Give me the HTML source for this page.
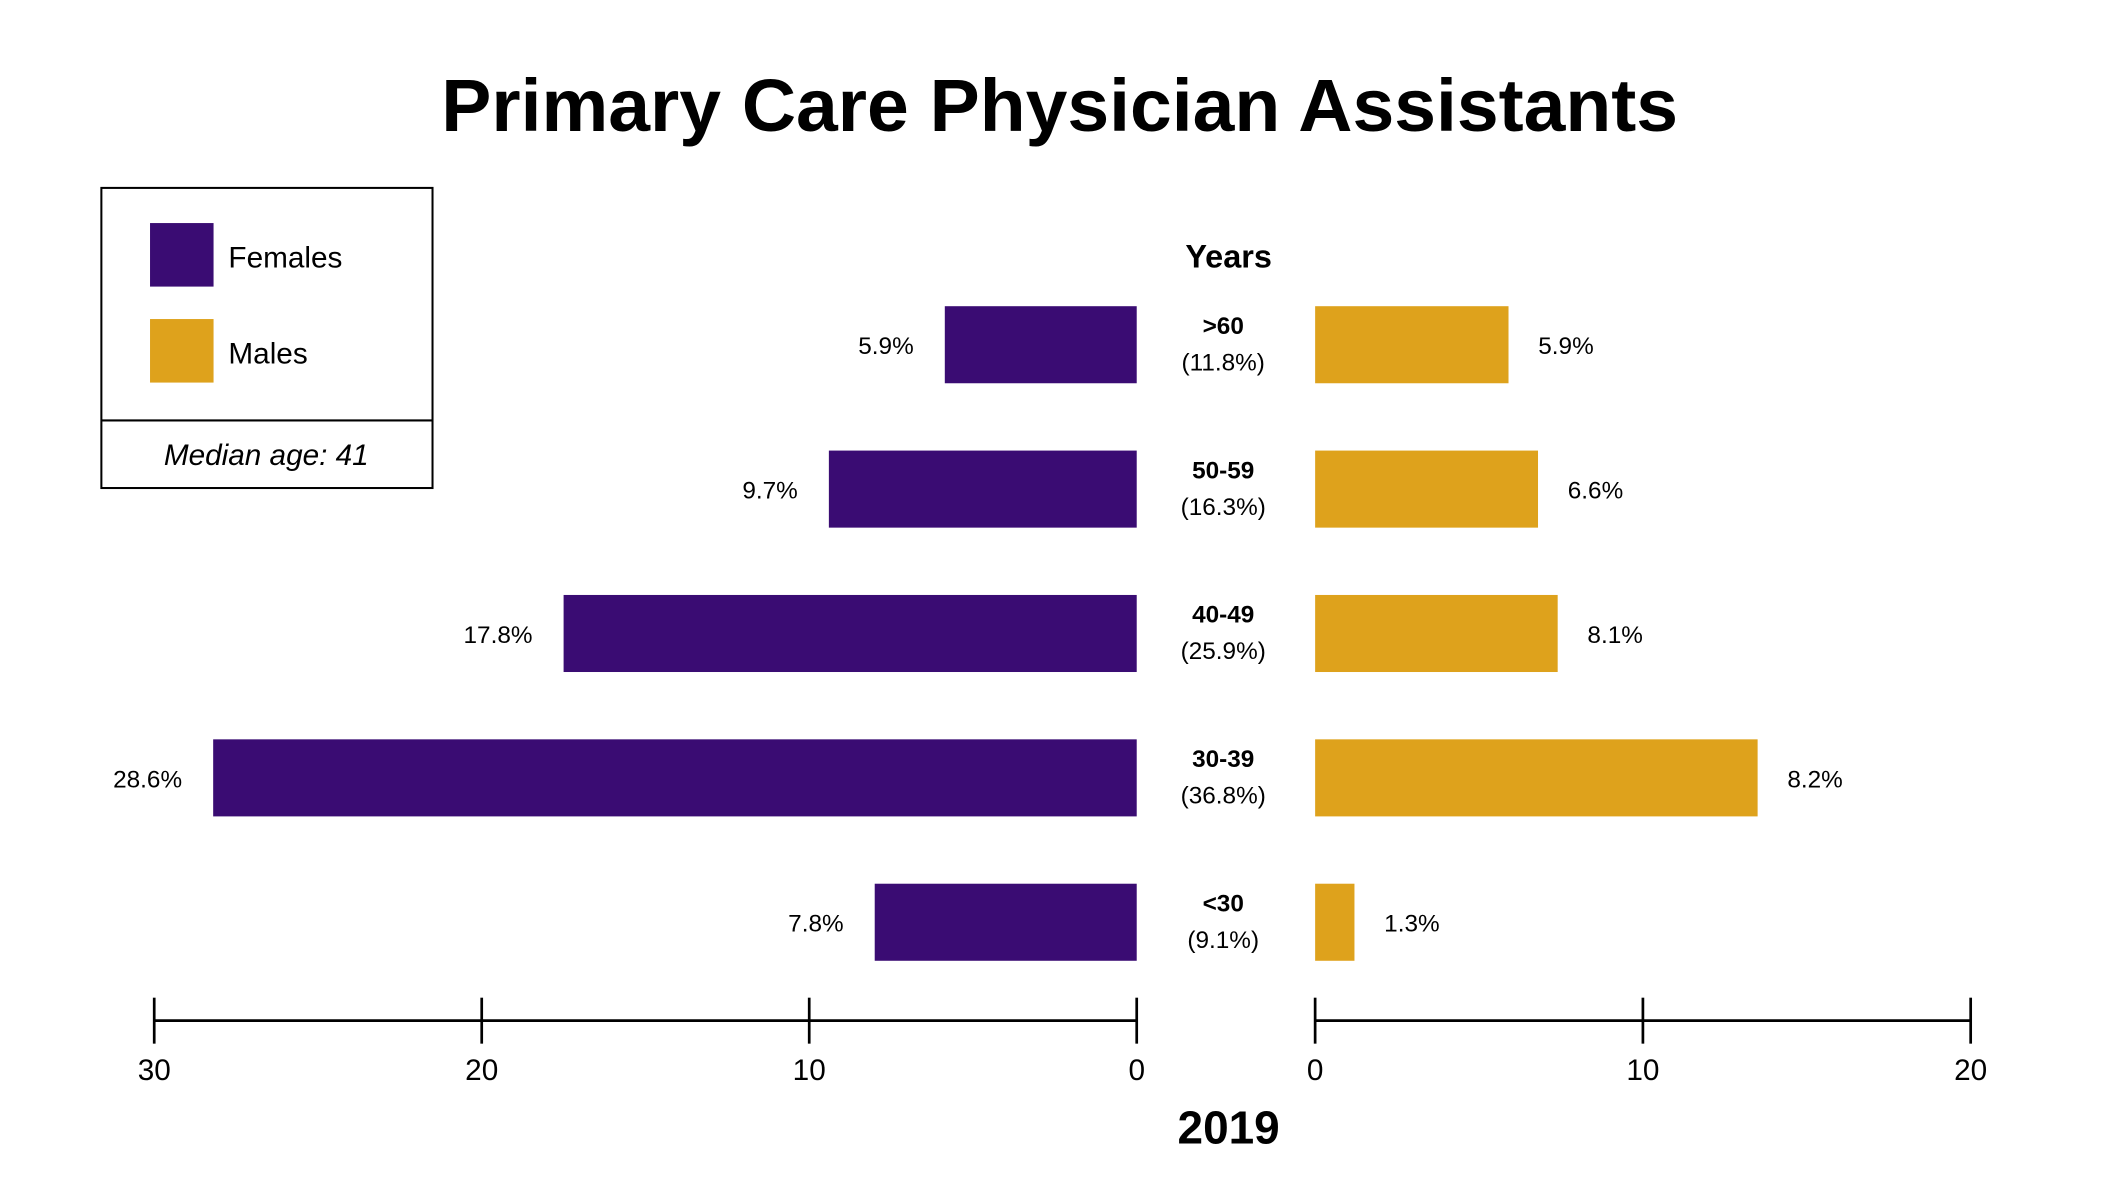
<!DOCTYPE html>
<html><head><meta charset="utf-8"><style>
html,body{margin:0;padding:0;background:#fff}
svg{display:block}
text{font-family:"Liberation Sans",sans-serif}
</style></head><body>
<svg id="c" width="2118" height="1191" viewBox="0 0 1567 881" preserveAspectRatio="none">
<text x="784" y="97" text-anchor="middle" font-size="55" font-weight="bold" textLength="915" lengthAdjust="spacingAndGlyphs">Primary Care Physician Assistants</text>
<g>
<rect x="75" y="139" width="245" height="222" fill="none" stroke="#000" stroke-width="1.5"/>
<line x1="75" y1="311" x2="320" y2="311" stroke="#000" stroke-width="1.5"/>
<rect x="111" y="165" width="47" height="47" fill="#3a0c73"/>
<text x="169" y="198" font-size="22">Females</text>
<rect x="111" y="236" width="47" height="47" fill="#dea21c"/>
<text x="169" y="269" font-size="22">Males</text>
<text x="197" y="344" text-anchor="middle" font-size="22" font-style="italic">Median age: 41</text>
</g>
<text x="909" y="198" text-anchor="middle" font-size="24" font-weight="bold">Years</text>
<g id="bars"></g>
<g id="axes"></g>
<text x="909" y="846" text-anchor="middle" font-size="34" font-weight="bold">2019</text>
</svg>
<script>
const categories = [">60","50-59","40-49","30-39","<30"];
const totals = ["(11.8%)","(16.3%)","(25.9%)","(36.8%)","(9.1%)"];
const females = [5.86, 9.4, 17.5, 28.2, 8.0];
const males = [5.9, 6.8, 7.4, 13.5, 1.2];
const femaleLabels = ["5.9%","9.7%","17.8%","28.6%","7.8%"];
const maleLabels = ["5.9%","6.6%","8.1%","8.2%","1.3%"];
const femaleTicks = [30,20,10,0];
const maleTicks = [0,10,20];

const NS="http://www.w3.org/2000/svg";
const fx = v => 841 - v*24.23;
const mx = v => 973 + v*24.25;
const ry = i => 255 + i*106.8;
const bh = 57;
const bars=document.getElementById('bars'), axes=document.getElementById('axes');
function mk(tag, attrs, parent, txt){const e=document.createElementNS(NS,tag);for(const k in attrs)e.setAttribute(k,attrs[k]);if(txt!==undefined)e.textContent=txt;parent.appendChild(e);return e;}
categories.forEach((c,i)=>{
  const y=ry(i);
  let r=mk('rect',{x:fx(females[i]),y:y-bh/2,width:fx(0)-fx(females[i]),height:bh,fill:'#3a0c73'},bars);
  
  
  let t=mk('text',{x:fx(females[i])-23,y:y+7,'text-anchor':'end','font-size':18},bars,femaleLabels[i]);
  
  
  r=mk('rect',{x:mx(0),y:y-bh/2,width:mx(males[i])-mx(0),height:bh,fill:'#dea21c'},bars);
  
  
  t=mk('text',{x:mx(males[i])+22,y:y+7,'font-size':18},bars,maleLabels[i]);
  
  
  t=mk('text',{x:905,y:y-8,'text-anchor':'middle','font-size':18,'font-weight':'bold'},bars,c);
  
  
  t=mk('text',{x:905,y:y+19,'text-anchor':'middle','font-size':18},bars,totals[i]);
  
  
});
let l=mk('line',{x1:fx(30),x2:fx(0),y1:755,y2:755,stroke:'#000','stroke-width':2},axes);


l=mk('line',{x1:mx(0),x2:mx(20),y1:755,y2:755,stroke:'#000','stroke-width':2},axes);


femaleTicks.forEach(v=>{
  const k=mk('line',{x1:fx(v),x2:fx(v),y1:738,y2:772,stroke:'#000','stroke-width':2},axes);
  
  
  const t=mk('text',{x:fx(v),y:799,'text-anchor':'middle','font-size':22},axes,v);
  
  
});
maleTicks.forEach(v=>{
  const k=mk('line',{x1:mx(v),x2:mx(v),y1:738,y2:772,stroke:'#000','stroke-width':2},axes);
  
  
  const t=mk('text',{x:mx(v),y:799,'text-anchor':'middle','font-size':22},axes,v);
  
  
});
</script>
</body></html>
